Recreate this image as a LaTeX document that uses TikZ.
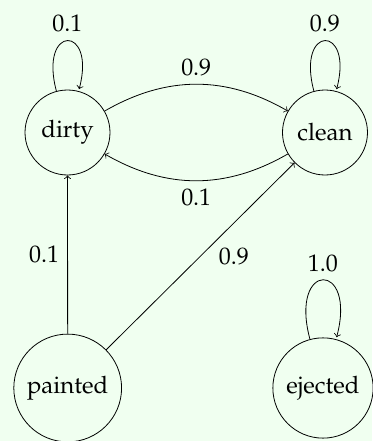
\documentclass[tikz,border=0pt,12pt]{standalone}
\usepackage[T1]{fontenc}
\usepackage{mathpazo}
\definecolor{bgmint}{RGB}{240,255,240}
\begin{document}
\begin{tikzpicture}[x=1pt,y=1pt,
  state/.style={draw, circle, minimum size=42.5pt, inner sep=4.5pt},
  trans/.style={->, thin}]
\fill[bgmint] (0,0) rectangle (186,220.5);
\useasboundingbox (0,0) rectangle (186,220.5);

\node[state] (dirty)   at (33.75,154.25) {dirty};
\node[state] (clean)   at (162.5,154.25) {clean};
\node[state] (painted) at (33.85,26.5)   {painted};
\node[state] (ejected) at (161.5,26.5)   {ejected};

\path[trans]
  (dirty)   edge[loop above] node[above] {0.1} (dirty)
  (dirty)   edge[bend left=30] node[above] {0.9} (clean)
  (clean)   edge[loop above] node[above] {0.9} (clean)
  (clean)   edge[bend left=30] node[below] {0.1} (dirty)
  (painted) edge node[left] {0.1} (dirty)
  (painted) edge node[right, xshift=5pt] {0.9} (clean)
  (ejected) edge[loop above] node[above] {1.0} (ejected);
\end{tikzpicture}
\end{document}
